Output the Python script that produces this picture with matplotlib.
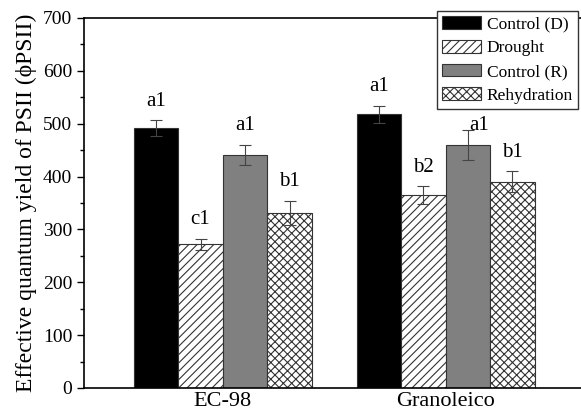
import matplotlib
matplotlib.use("Agg")
import matplotlib.pyplot as plt
import numpy as np
from matplotlib.ticker import MultipleLocator

plt.rcParams["font.family"] = ["Liberation Serif", "DejaVu Serif"]
plt.rcParams["hatch.color"] = "#555555"
plt.rcParams["hatch.linewidth"] = 0.8

# 数据
cultivars = ["EC-98", "Granoleico"]
treatments = ["Control (D)", "Drought", "Control (R)", "Rehydration"]
means = [
    [492, 272, 441, 331],
    [518, 365, 460, 390],
]
errors = [
    [15, 10, 19, 23],
    [16, 17, 29, 20],
]
letters = [
    ["a1", "c1", "a1", "b1"],
    ["a1", "b2", "a1", "b1"],
]

colors = ["#000000", "#ffffff", "#808080", "#ffffff"]
hatches = [None, "////", None, "xxxx"]

fig = plt.figure(figsize=(5.81, 4.16), dpi=100)
ax = fig.add_axes([84 / 581, 28 / 416, 502 / 581, 370 / 416])

width = 0.2
x = np.arange(len(cultivars))
means = np.array(means)
errors = np.array(errors)

for i, name in enumerate(treatments):
    pos = x + (i - 1.5) * width
    ax.bar(pos, means[:, i], width, color=colors[i], hatch=hatches[i],
           edgecolor="#333333", linewidth=0.8, label=name, zorder=2)
    ax.errorbar(pos, means[:, i], yerr=errors[:, i], fmt="none", ecolor="#444444",
                elinewidth=0.8, capsize=4, capthick=0.8, zorder=3)
    for j in range(len(cultivars)):
        # Granoleico的Control (R)标注往右下挪，避开图例
        dx = 0.05 if (j == 1 and i == 2) else 0
        dy = -10 if (j == 1 and i == 2) else 18
        ax.text(pos[j] + dx, means[j, i] + errors[j, i] + dy, letters[j][i],
                ha="center", va="bottom", fontsize=15)

ax.set_xlim(-0.623, 1.63)
ax.set_ylim(0, 700)
ax.set_xticks(x)
ax.set_xticklabels(cultivars, fontsize=16)
ax.tick_params(axis="x", length=0, pad=3)
ax.yaxis.set_major_locator(MultipleLocator(100))
ax.yaxis.set_minor_locator(MultipleLocator(50))
ax.tick_params(axis="y", which="major", direction="out", length=5, width=1, labelsize=14)
ax.tick_params(axis="y", which="minor", direction="out", length=3, width=1)
ax.set_ylabel("Effective quantum yield of PSII (\u03d5PSII)", fontsize=17, labelpad=4)

for s in ax.spines.values():
    s.set_linewidth(1.2)

ax.legend(loc="upper right", bbox_to_anchor=(578 / 581, 1 - 11 / 416),
          bbox_transform=fig.transFigure, fontsize=12.5, frameon=True,
          fancybox=False, edgecolor="#333333", framealpha=1,
          handlelength=2.25, handleheight=0.75, labelspacing=0.42,
          borderpad=0.3, handletextpad=0.3, borderaxespad=0)

fig.savefig("out.png", dpi=100)
